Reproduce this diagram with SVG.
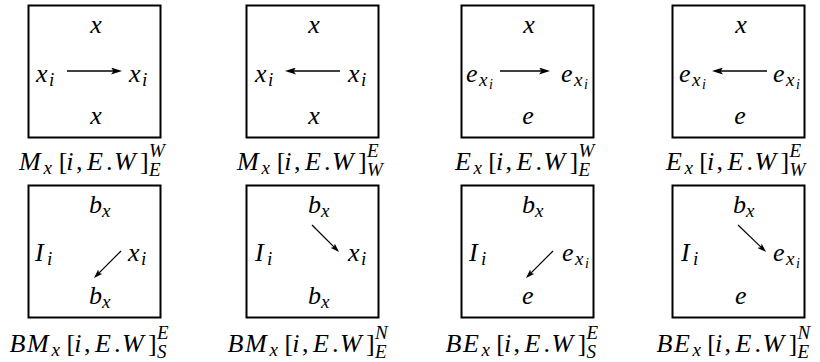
<svg xmlns="http://www.w3.org/2000/svg" width="820" height="362" viewBox="0 0 820 362" font-family="Liberation Serif, DejaVu Serif, serif">
<style>
.box{fill:none;stroke:#000;stroke-width:2}
.m{font-family:"Liberation Serif",serif;font-style:italic;font-size:26px;fill:#000}
.r{font-style:normal}
.s{font-size:19px}
.ss{font-size:14px}
.c{text-anchor:middle}
.a1{stroke:#000;stroke-width:1.6;fill:none}
.a2{stroke:#000;stroke-width:1.2;fill:none}
</style>
<defs>
<marker id="ah1" viewBox="0 0 11 7" refX="7" refY="3.5" markerWidth="11" markerHeight="7" orient="auto" markerUnits="userSpaceOnUse"><path d="M0,0 L11,3.5 L0,7 L2.5,3.5 z" fill="#000"/></marker>
<marker id="ah2" viewBox="0 0 9 6" refX="6" refY="3" markerWidth="9" markerHeight="6" orient="auto" markerUnits="userSpaceOnUse"><path d="M0,0 L9,3 L0,6 L2,3 z" fill="#000"/></marker>
</defs>

<g id="cell-Mx-WE">
<rect class="box" x="28.5" y="5.5" width="132" height="132"/>
<text class="m c" x="96" y="32.5">x</text>
<text class="m"><tspan x="36" y="81.5">x</tspan><tspan class="s" x="49" y="85.5">i</tspan></text>
<text class="m"><tspan x="129" y="81.5">x</tspan><tspan class="s" x="142" y="85.5">i</tspan></text>
<text class="m c" x="96" y="123.5">x</text>
<text class="m"><tspan x="19" y="169.5">M</tspan><tspan class="s" x="43.5" y="173.5">x</tspan><tspan class="r" x="58.7" y="169.5">[</tspan><tspan x="66.3" y="169.5">i</tspan><tspan class="r" x="75.9" y="169.5">,</tspan><tspan x="87" y="169.5">E</tspan><tspan class="r" x="106" y="169.5">.</tspan><tspan x="114" y="169.5">W</tspan><tspan class="r" x="140" y="169.5">]</tspan><tspan class="s" x="149" y="156.5">W</tspan><tspan class="s" x="149" y="176">E</tspan></text>
</g>

<g id="cell-Mx-EW">
<rect class="box" x="246.5" y="5.5" width="132" height="132"/>
<text class="m c" x="314" y="32.5">x</text>
<text class="m"><tspan x="255" y="81.5">x</tspan><tspan class="s" x="268" y="85.5">i</tspan></text>
<text class="m"><tspan x="348" y="81.5">x</tspan><tspan class="s" x="361" y="85.5">i</tspan></text>
<text class="m c" x="314" y="123.5">x</text>
<text class="m"><tspan x="237" y="169.5">M</tspan><tspan class="s" x="261.5" y="173.5">x</tspan><tspan class="r" x="276.7" y="169.5">[</tspan><tspan x="284.3" y="169.5">i</tspan><tspan class="r" x="293.9" y="169.5">,</tspan><tspan x="305" y="169.5">E</tspan><tspan class="r" x="324" y="169.5">.</tspan><tspan x="332" y="169.5">W</tspan><tspan class="r" x="358" y="169.5">]</tspan><tspan class="s" x="367" y="156.5">E</tspan><tspan class="s" x="367" y="176">W</tspan></text>
</g>

<g id="cell-Ex-WE">
<rect class="box" x="461.5" y="5.5" width="132" height="132"/>
<text class="m c" x="529" y="32.5">x</text>
<text class="m"><tspan x="466" y="81.5">e</tspan><tspan class="s" x="479" y="85.5">x</tspan><tspan class="ss" x="489" y="88.5">i</tspan></text>
<text class="m"><tspan x="561" y="81.5">e</tspan><tspan class="s" x="574" y="85.5">x</tspan><tspan class="ss" x="584" y="88.5">i</tspan></text>
<text class="m c" x="528" y="123.5">e</text>
<text class="m"><tspan x="455" y="169.5">E</tspan><tspan class="s" x="473.5" y="173.5">x</tspan><tspan class="r" x="488.3" y="169.5">[</tspan><tspan x="496" y="169.5">i</tspan><tspan class="r" x="505.5" y="169.5">,</tspan><tspan x="516.6" y="169.5">E</tspan><tspan class="r" x="535.6" y="169.5">.</tspan><tspan x="543.6" y="169.5">W</tspan><tspan class="r" x="569.6" y="169.5">]</tspan><tspan class="s" x="578.6" y="156.5">W</tspan><tspan class="s" x="578.6" y="176">E</tspan></text>
</g>

<g id="cell-Ex-EW">
<rect class="box" x="672.5" y="5.5" width="132" height="132"/>
<text class="m c" x="741" y="32.5">x</text>
<text class="m"><tspan x="679" y="81.5">e</tspan><tspan class="s" x="692" y="85.5">x</tspan><tspan class="ss" x="702" y="88.5">i</tspan></text>
<text class="m"><tspan x="773" y="81.5">e</tspan><tspan class="s" x="786" y="85.5">x</tspan><tspan class="ss" x="796" y="88.5">i</tspan></text>
<text class="m c" x="740" y="123.5">e</text>
<text class="m"><tspan x="666" y="169.5">E</tspan><tspan class="s" x="684.5" y="173.5">x</tspan><tspan class="r" x="699.3" y="169.5">[</tspan><tspan x="707" y="169.5">i</tspan><tspan class="r" x="716.5" y="169.5">,</tspan><tspan x="727.6" y="169.5">E</tspan><tspan class="r" x="746.6" y="169.5">.</tspan><tspan x="754.6" y="169.5">W</tspan><tspan class="r" x="780.6" y="169.5">]</tspan><tspan class="s" x="789.6" y="156.5">E</tspan><tspan class="s" x="789.6" y="176">W</tspan></text>
</g>

<g id="cell-BMx-ES">
<rect class="box" x="28.5" y="185.5" width="132" height="132"/>
<text class="m"><tspan x="89" y="212.5">b</tspan><tspan class="s" x="102" y="216.5">x</tspan></text>
<text class="m"><tspan x="35" y="261">I</tspan><tspan class="s" x="47" y="265">i</tspan></text>
<text class="m"><tspan x="128" y="261">x</tspan><tspan class="s" x="141" y="265">i</tspan></text>
<text class="m"><tspan x="89" y="303.5">b</tspan><tspan class="s" x="102" y="307.5">x</tspan></text>
<text class="m"><tspan x="9.5" y="352">B</tspan><tspan x="27" y="352">M</tspan><tspan class="s" x="51.5" y="356">x</tspan><tspan class="r" x="66.5" y="352">[</tspan><tspan x="74.3" y="352">i</tspan><tspan class="r" x="83.9" y="352">,</tspan><tspan x="95" y="352">E</tspan><tspan class="r" x="114" y="352">.</tspan><tspan x="122" y="352">W</tspan><tspan class="r" x="148" y="352">]</tspan><tspan class="s" x="157" y="339">E</tspan><tspan class="s" x="157" y="358">S</tspan></text>
</g>

<g id="cell-BMx-NE">
<rect class="box" x="246.5" y="185.5" width="132" height="132"/>
<text class="m"><tspan x="308" y="212.5">b</tspan><tspan class="s" x="321" y="216.5">x</tspan></text>
<text class="m"><tspan x="255" y="261">I</tspan><tspan class="s" x="267" y="265">i</tspan></text>
<text class="m"><tspan x="348" y="261">x</tspan><tspan class="s" x="361" y="265">i</tspan></text>
<text class="m"><tspan x="308" y="303.5">b</tspan><tspan class="s" x="321" y="307.5">x</tspan></text>
<text class="m"><tspan x="227.5" y="352">B</tspan><tspan x="245" y="352">M</tspan><tspan class="s" x="269.5" y="356">x</tspan><tspan class="r" x="284.5" y="352">[</tspan><tspan x="292.3" y="352">i</tspan><tspan class="r" x="301.9" y="352">,</tspan><tspan x="313" y="352">E</tspan><tspan class="r" x="332" y="352">.</tspan><tspan x="340" y="352">W</tspan><tspan class="r" x="366" y="352">]</tspan><tspan class="s" x="375" y="339">N</tspan><tspan class="s" x="375" y="358">E</tspan></text>
</g>

<g id="cell-BEx-ES">
<rect class="box" x="461.5" y="185.5" width="132" height="132"/>
<text class="m"><tspan x="522" y="212.5">b</tspan><tspan class="s" x="535" y="216.5">x</tspan></text>
<text class="m"><tspan x="469" y="261">I</tspan><tspan class="s" x="481" y="265">i</tspan></text>
<text class="m"><tspan x="562" y="261">e</tspan><tspan class="s" x="575" y="265">x</tspan><tspan class="ss" x="585" y="268">i</tspan></text>
<text class="m"><tspan x="522" y="303.5">e</tspan></text>
<text class="m"><tspan x="445.5" y="352">B</tspan><tspan x="463" y="352">E</tspan><tspan class="s" x="481.5" y="356">x</tspan><tspan class="r" x="496.3" y="352">[</tspan><tspan x="504" y="352">i</tspan><tspan class="r" x="513.5" y="352">,</tspan><tspan x="524.6" y="352">E</tspan><tspan class="r" x="543.6" y="352">.</tspan><tspan x="551.6" y="352">W</tspan><tspan class="r" x="577.6" y="352">]</tspan><tspan class="s" x="586.6" y="339">E</tspan><tspan class="s" x="586.6" y="358">S</tspan></text>
</g>

<g id="cell-BEx-NE">
<rect class="box" x="672.5" y="185.5" width="132" height="132"/>
<text class="m"><tspan x="733" y="212.5">b</tspan><tspan class="s" x="746" y="216.5">x</tspan></text>
<text class="m"><tspan x="681" y="261">I</tspan><tspan class="s" x="693" y="265">i</tspan></text>
<text class="m"><tspan x="773" y="261">e</tspan><tspan class="s" x="786" y="265">x</tspan><tspan class="ss" x="796" y="268">i</tspan></text>
<text class="m"><tspan x="735" y="303.5">e</tspan></text>
<text class="m"><tspan x="656.5" y="352">B</tspan><tspan x="674" y="352">E</tspan><tspan class="s" x="692.5" y="356">x</tspan><tspan class="r" x="707.3" y="352">[</tspan><tspan x="715" y="352">i</tspan><tspan class="r" x="724.5" y="352">,</tspan><tspan x="735.6" y="352">E</tspan><tspan class="r" x="754.6" y="352">.</tspan><tspan x="762.6" y="352">W</tspan><tspan class="r" x="788.6" y="352">]</tspan><tspan class="s" x="797.6" y="339">N</tspan><tspan class="s" x="797.6" y="358">E</tspan></text>
</g>

<g id="connectors">
<line class="a1" x1="67" y1="71" x2="118" y2="71" marker-end="url(#ah1)"/>
<line class="a1" x1="340" y1="71" x2="289" y2="71" marker-end="url(#ah1)"/>
<line class="a1" x1="500" y1="71" x2="546" y2="71" marker-end="url(#ah1)"/>
<line class="a1" x1="767" y1="71" x2="716" y2="71" marker-end="url(#ah1)"/>
<line class="a2" x1="121" y1="251" x2="96.1" y2="275.9" marker-end="url(#ah2)"/>
<line class="a2" x1="312" y1="225" x2="336.9" y2="249.9" marker-end="url(#ah2)"/>
<line class="a2" x1="553" y1="251" x2="528.1" y2="275.9" marker-end="url(#ah2)"/>
<line class="a2" x1="738" y1="225" x2="763.9" y2="249.9" marker-end="url(#ah2)"/>
</g>
</svg>
